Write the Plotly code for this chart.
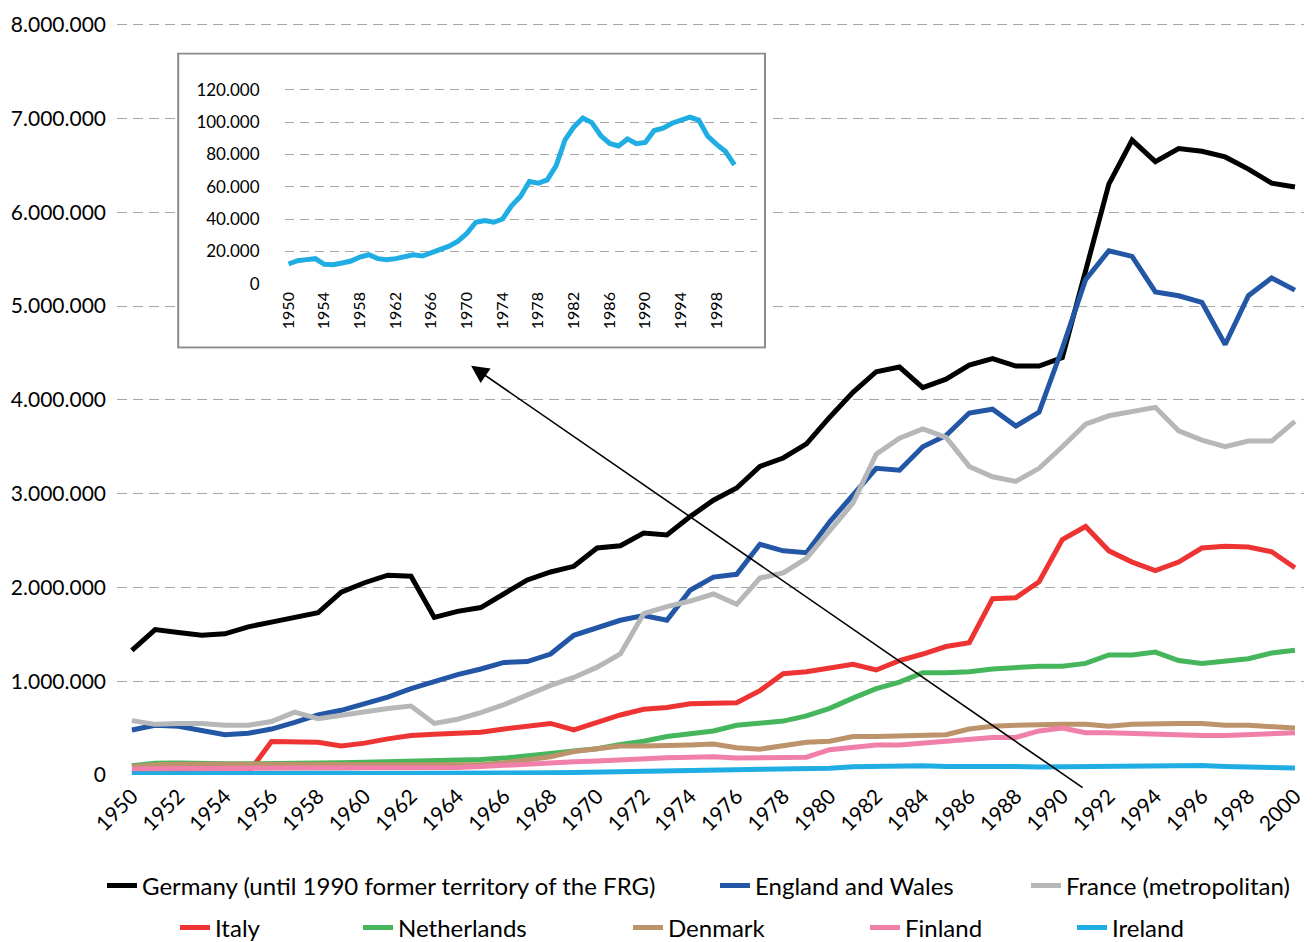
import plotly.graph_objects as go

# ---- data (persons in thousands) ----
years = list(range(1950, 2001))

germany_k = [1330, 1550, 1520, 1490, 1505, 1580, 1630, 1680, 1730, 1950,
             2050, 2130, 2120, 1680, 1745, 1785, 1930, 2080, 2165, 2225,
             2420, 2445, 2580, 2560, 2755, 2930, 3060, 3290, 3380, 3530,
             3815, 4080, 4300, 4350, 4130, 4220, 4370, 4440, 4360, 4360,
             4450, 5350, 6300, 6770, 6540, 6680, 6650, 6590, 6460, 6310,
             6270]
england_k = [480, 530, 520, 470, 430, 445, 490, 560, 640, 690,
             760, 830, 920, 1000, 1070, 1130, 1200, 1210, 1290, 1490,
             1565, 1650, 1700, 1650, 1970, 2110, 2140, 2460, 2390, 2370,
             2700, 2980, 3270, 3250, 3500, 3620, 3860, 3900, 3720, 3870,
             4550, 5280, 5590, 5530, 5150, 5110, 5040, 4590, 5110, 5300,
             5170]
france_k = [580, 540, 550, 550, 530, 530, 570, 670, 600, 640,
            680, 710, 735, 550, 595, 665, 750, 855, 955, 1040,
            1150, 1290, 1720, 1795, 1855, 1930, 1820, 2100, 2155, 2310,
            2610, 2900, 3420, 3590, 3690, 3600, 3290, 3180, 3130, 3270,
            3500, 3740, 3830, 3880, 3920, 3670, 3570, 3500, 3560, 3560,
            3770]
italy_k = [20, 20, 20, 20, 20, 20, 357, 357, 350, 310,
           340, 385, 420, 435, 445, 455, 490, 520, 550, 480,
           560, 640, 700, 720, 760, 770, 770, 900, 1080, 1100,
           1140, 1180, 1120, 1220, 1290, 1370, 1410, 1880, 1890, 2060,
           2510, 2650, 2390, 2270, 2180, 2270, 2420, 2440, 2430, 2380,
           2210]
netherlands_k = [100, 125, 127, 120, 120, 120, 120, 125, 130, 130,
                 135, 140, 150, 150, 160, 165, 180, 200, 230, 255,
                 280, 325, 360, 410, 440, 470, 530, 550, 575, 630,
                 710, 820, 920, 990, 1090, 1090, 1100, 1130, 1145, 1160,
                 1160, 1190, 1280, 1280, 1310, 1220, 1190, 1220, 1240, 1300,
                 1330]
denmark_k = [90, 110, 115, 115, 115, 110, 110, 110, 110, 110,
             110, 110, 110, 110, 105, 110, 130, 160, 195, 250,
             275, 310, 310, 310, 320, 330, 290, 275, 310, 350,
             360, 410, 410, 420, 420, 430, 490, 520, 530, 540,
             540, 540, 520, 540, 550, 550, 550, 530, 530, 510,
             500]
finland_k = [60, 70, 70, 70, 70, 70, 70, 75, 75, 75,
             75, 75, 80, 80, 80, 90, 105, 115, 125, 140,
             150, 165, 175, 185, 190, 195, 180, 180, 180, 190,
             270, 290, 320, 320, 340, 360, 385, 400, 400, 470,
             500, 450, 450, 440, 430, 430, 420, 420, 430, 440,
             450]
ireland_k = [12.3, 14.3, 15.0, 15.6, 12.1, 11.9, 12.9, 14.1, 16.6, 18.0,
             15.6, 15.0, 15.6, 16.6, 18.0, 17.2, 19.2, 20.7, 23.3, 26.4,
             31.3, 38.1, 39.1, 38.1, 40.1, 48.3, 54.0, 63.3, 62.2, 64.3,
             73.0, 89.0, 97.0, 102.5, 99.7, 91.7, 86.8, 85.3, 89.6, 86.6,
             87.4, 94.8, 96.2, 99.3, 101.3, 103.0, 101.3, 91.3, 86.2, 81.8,
             73.6]

series_names = ["Germany (until 1990 former territory of the FRG)",
                "England and Wales", "France (metropolitan)", "Italy",
                "Netherlands", "Denmark", "Finland", "Ireland"]
series_values = [germany_k, england_k, france_k, italy_k,
                 netherlands_k, denmark_k, finland_k, ireland_k]
series_colors = ["#000000", "#2357A6", "#B5B7B8", "#EE3433",
                 "#45B65B", "#BD936B", "#F07FAA", "#1FADE4"]

main_ticks = list(range(1950, 2001, 2))
inset_ticks = list(range(1950, 1999, 4))

FONT = "Lato, 'Open Sans', sans-serif"

# legend placement: (x of text start, y centre) in window pixels
legend_pos = [(142, 886), (755, 886), (1066, 886),
              (215, 928), (398, 928), (668, 928), (905, 928), (1112, 928)]

W, H = 1316, 942
# main plot area: 8.000.000 gridline at y=18, 0 at y=775; top of range padded
Y_TOP = 8050000
PX_PER_UNIT = (775 - 18) / 8000000
ML, MR = 115, 11
MB = H - 775
MT = 775 - Y_TOP * PX_PER_UNIT
PW, PH = W - ML - MR, H - MT - MB


def px_x(p):
    return (p - ML) / PW


def px_y(p):
    return (H - MB - p) / PH


fig = go.Figure()

for i, (name, vals, col) in enumerate(zip(series_names, series_values, series_colors)):
    lg = "legend" if i == 0 else f"legend{i + 1}"
    fig.add_trace(go.Scatter(
        x=years, y=[v * 1000 for v in vals], name=name, mode="lines",
        line=dict(color=col, width=5), legend=lg,
        xaxis="x", yaxis="y"))

# inset: Ireland alone
fig.add_trace(go.Scatter(
    x=years, y=[v * 1000 for v in ireland_k], mode="lines",
    line=dict(color="#1FADE4", width=5), showlegend=False,
    xaxis="x3", yaxis="y3"))

layout = dict(
    width=W, height=H,
    margin=dict(l=ML, r=MR, t=MT, b=MB),
    paper_bgcolor="white", plot_bgcolor="white",
    separators=",.",
    font=dict(family=FONT, color="#000000"),
    xaxis=dict(range=[1949.36, 2000.39], tickvals=main_ticks, tickangle=-45,
               showgrid=False, zeroline=False, showline=False,
               tickfont=dict(size=21), ticklabelstandoff=4),
    yaxis=dict(range=[0, Y_TOP], tickvals=list(range(0, 8000001, 1000000)),
               tickformat=",d",
               showgrid=True, gridcolor="#A6A6A6", gridwidth=1.3,
               griddash="10px,6px", zeroline=False, showline=False,
               tickfont=dict(size=21), ticklabelstandoff=10),
    # box holding the inset (white panel above the main chart)
    xaxis2=dict(domain=[px_x(174), px_x(767)], range=[-0.004, 1.004],
                visible=False, anchor="y2", fixedrange=True),
    yaxis2=dict(domain=[px_y(345), px_y(46)], range=[-0.004, 1.004],
                visible=False, anchor="x2", fixedrange=True),
    # inset plot area
    xaxis3=dict(domain=[px_x(283), px_x(757)], range=[1949.55, 2002.57],
                anchor="y3", tickvals=inset_ticks, tickangle=-90,
                showgrid=False, zeroline=False, showline=False,
                tickfont=dict(size=16), ticklabelstandoff=4),
    yaxis3=dict(domain=[px_y(279.5), px_y(82)], range=[0, 121000],
                anchor="x3", tickvals=list(range(0, 120001, 20000)),
                tickformat=",d",
                showgrid=True, gridcolor="#A6A6A6", gridwidth=1.3,
                griddash="9px,6px", zeroline=False, showline=False,
                tickfont=dict(size=17), ticklabelstandoff=24),
    shapes=[dict(type="rect", xref="x2", yref="y2", x0=0, x1=1, y0=0, y1=1,
                 fillcolor="white", line=dict(color="#8C8C8C", width=2),
                 layer="below")],
    annotations=[dict(xref="paper", yref="paper", x=px_x(470), y=px_y(362),
                      ax=1083 - 470, ay=785 - 362, text="", showarrow=True,
                      arrowhead=2, arrowsize=2.2, arrowwidth=1.6,
                      arrowcolor="#000000", standoff=0)],
)

for i, (tx, ty) in enumerate(legend_pos):
    key = "legend" if i == 0 else f"legend{i + 1}"
    layout[key] = dict(xref="container", yref="container",
                       x=(tx - 40) / W, y=1 - ty / H,
                       xanchor="left", yanchor="middle",
                       orientation="h", bgcolor="rgba(0,0,0,0)",
                       font=dict(family=FONT, size=24, color="#000000"))

fig.update_layout(**layout)

# the page body has a default 8px margin; drop it so the figure fills the window
fig.write_html("out.html", config={"displayModeBar": False},
               post_script="document.body.style.margin='0';")
